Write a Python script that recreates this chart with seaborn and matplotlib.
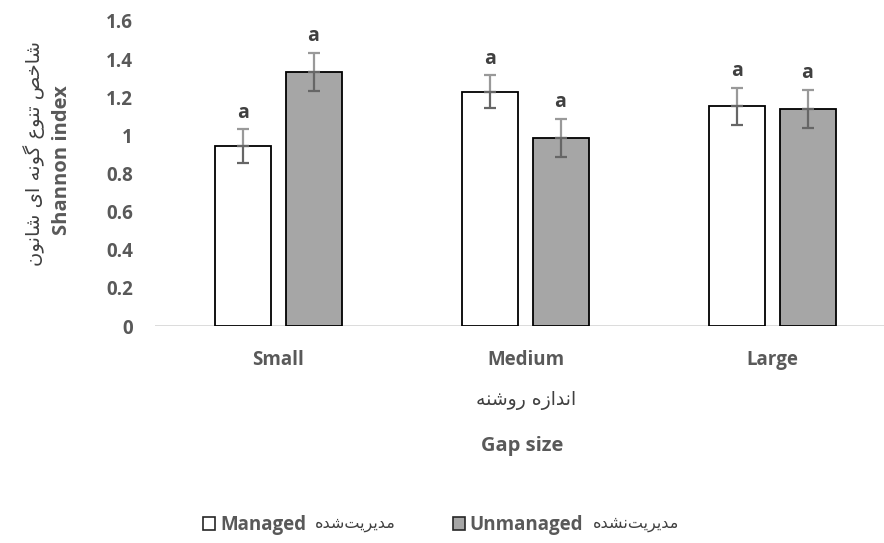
import matplotlib
matplotlib.use("Agg")
import matplotlib.pyplot as plt
import seaborn as sns
import pandas as pd
from matplotlib.patches import Patch

# ---------------- data ----------------
gap_sizes = ["Small", "Medium", "Large"]
treatments = ["Managed", "Unmanaged"]
managed_vals = [0.944, 1.228, 1.154]
unmanaged_vals = [1.333, 0.986, 1.138]
managed_err = [0.087, 0.087, 0.097]
unmanaged_err = [0.100, 0.100, 0.100]
letters_managed = ["a", "a", "a"]
letters_unmanaged = ["a", "a", "a"]
y_ticks = [0, 0.2, 0.4, 0.6, 0.8, 1.0, 1.2, 1.4, 1.6]
y_ticklabels = ["0", "0.2", "0.4", "0.6", "0.8", "1", "1.2", "1.4", "1.6"]

ylabel_fa = "شاخص تنوع گونه ای شانون"
ylabel_en = "Shannon index"
xlabel_fa = "اندازه روشنه"
xlabel_en = "Gap size"
legend_fa = ["مدیریت\u200cشده", "مدیریت\u200cنشده"]

# ------------- minimal Persian shaping (presentation forms) -------------
FORMS = {
    'ا': ('\uFE8D', '\uFE8E', None, None),
    'د': ('\uFEA9', '\uFEAA', None, None),
    'ر': ('\uFEAD', '\uFEAE', None, None),
    'ز': ('\uFEAF', '\uFEB0', None, None),
    'و': ('\uFEED', '\uFEEE', None, None),
    'خ': ('\uFEA5', '\uFEA6', '\uFEA7', '\uFEA8'),
    'ص': ('\uFEB9', '\uFEBA', '\uFEBB', '\uFEBC'),
    'ت': ('\uFE95', '\uFE96', '\uFE97', '\uFE98'),
    'ن': ('\uFEE5', '\uFEE6', '\uFEE7', '\uFEE8'),
    'ع': ('\uFEC9', '\uFECA', '\uFECB', '\uFECC'),
    'ش': ('\uFEB5', '\uFEB6', '\uFEB7', '\uFEB8'),
    'ه': ('\uFEE9', '\uFEEA', '\uFEEB', '\uFEEC'),
    'م': ('\uFEE1', '\uFEE2', '\uFEE3', '\uFEE4'),
    'ی': ('\uFEEF', '\uFEF0', '\uFEF3', '\uFEF4'),
    'گ': ('\uFB92', '\uFB93', '\uFB94', '\uFB95'),
}


def shape(s):
    out = []
    n = len(s)
    for i, c in enumerate(s):
        if c not in FORMS:
            if c == '\u200c':
                continue
            out.append(c)
            continue
        f = FORMS[c]
        prev = s[i - 1] if i > 0 else ''
        nxt = s[i + 1] if i + 1 < n else ''
        jp = prev in FORMS and FORMS[prev][2] is not None
        jn = f[2] is not None and nxt in FORMS
        if jp and jn:
            out.append(f[3])
        elif jp:
            out.append(f[1])
        elif jn:
            out.append(f[2])
        else:
            out.append(f[0])
    return ''.join(reversed(out))


# ---------------- figure ----------------
sns.set_theme(style="white")
plt.rcParams['font.family'] = ['Open Sans', 'DejaVu Sans']

W, H = 884, 543
fig = plt.figure(figsize=(W / 100, H / 100), dpi=100)
ax = fig.add_axes([155 / W, 217 / H, (W - 155) / W, 305 / H])

df = pd.DataFrame({
    "gap": gap_sizes * 2,
    "treatment": [treatments[0]] * 3 + [treatments[1]] * 3,
    "value": managed_vals + unmanaged_vals,
})
palette = {"Managed": "#ffffff", "Unmanaged": "#a6a6a6"}
sns.barplot(data=df, x="gap", y="value", hue="treatment", order=gap_sizes,
            hue_order=treatments, palette=palette, width=0.567, gap=0.2,
            edgecolor="black", linewidth=1.3, errorbar=None, legend=False,
            ax=ax, zorder=3)

ax.set_xlim(-0.5, (W - 155) / 247 - 0.5)
ax.set_ylim(0, 1.6)
ax.set_yticks(y_ticks)
ax.set_yticklabels(y_ticklabels)
for sp in ax.spines.values():
    sp.set_visible(False)
ax.axhline(0, color="#d9d9d9", lw=1.3, zorder=2)
ax.tick_params(axis="both", length=0, colors="#595959")
ax.tick_params(axis="y", pad=16, labelsize=13.5)
ax.tick_params(axis="x", pad=17, labelsize=13.5)
for lab in ax.get_xticklabels() + ax.get_yticklabels():
    lab.set_fontweight("bold")
ax.set_xlabel("")
ax.set_ylabel("")

# error bars (upper half lighter, lower half darker) and letters
vals_all = [managed_vals, unmanaged_vals]
errs_all = [managed_err, unmanaged_err]
lets_all = [letters_managed, letters_unmanaged]
patches = list(ax.patches)
for h in range(2):
    xs = []
    for i in range(3):
        p = patches[h * 3 + i]
        xs.append(p.get_x() + p.get_width() / 2)
    zeros = [0] * 3
    ax.errorbar(xs, vals_all[h], yerr=[zeros, errs_all[h]], fmt="none",
                ecolor="#999999", elinewidth=1.6, capsize=4.5, capthick=1.6,
                zorder=4)
    ax.errorbar(xs, vals_all[h], yerr=[errs_all[h], zeros], fmt="none",
                ecolor="#666666", elinewidth=1.6, capsize=4.5, capthick=1.6,
                zorder=4)
    for x, v, e, t in zip(xs, vals_all[h], errs_all[h], lets_all[h]):
        ax.text(x, v + e + 0.035, t, ha="center", va="bottom",
                fontsize=14, fontweight="bold", color="#404040",
                clip_on=False)

# axis titles
fig.text(34 / W, 1 - 153 / H, shape(ylabel_fa), rotation=90, ha="center",
         va="center", fontsize=14, color="#404040", family="DejaVu Sans")
fig.text(62 / W, 1 - 160 / H, ylabel_en, rotation=90, ha="center",
         va="center", fontsize=14.5, fontweight="bold", color="#595959")
fig.text(526 / W, 1 - 401 / H, shape(xlabel_fa), ha="center", va="center",
         fontsize=13.5, color="#404040", family="DejaVu Sans")
fig.text(522 / W, 1 - 446 / H, xlabel_en, ha="center", va="center",
         fontsize=14.5, fontweight="bold", color="#595959")

# legend (one entry per legend so each can be positioned)
leg_left = [203, 453]
legs = []
for t, xl in zip(treatments, leg_left):
    hnd = Patch(facecolor=palette[t], edgecolor="#262626", lw=1.2)
    lg = fig.legend([hnd], [t], loc="center left",
                    bbox_to_anchor=(xl / W, 1 - 525 / H), frameon=False,
                    borderpad=0, borderaxespad=0,
                    handlelength=0.65, handleheight=0.65, handletextpad=0.25,
                    prop={"weight": "bold", "size": 13.5})
    for tx in lg.get_texts():
        tx.set_color("#595959")
    legs.append(lg)
fig.canvas.draw()
r = fig.canvas.get_renderer()
for lg, fa in zip(legs, legend_fa):
    bb = lg.get_texts()[0].get_window_extent(r)
    fig.text((bb.x1 + 9) / W, 1 - 525 / H, shape(fa),
             ha="left", va="center", fontsize=11.5, color="#404040",
             family="DejaVu Sans")

fig.savefig("out.png", dpi=100)
